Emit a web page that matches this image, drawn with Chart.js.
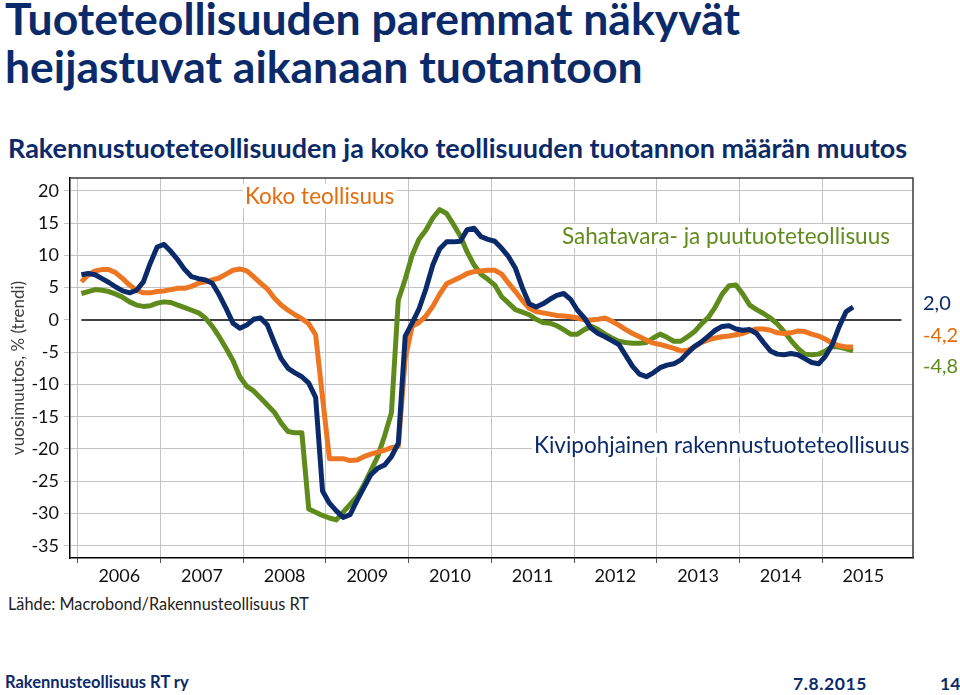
<!DOCTYPE html>
<html lang="fi">
<head>
  <meta charset="UTF-8">
  <title>Tuoteteollisuuden paremmat näkyvät heijastuvat aikanaan tuotantoon</title>
  <script src="https://cdn.jsdelivr.net/npm/chart.js"></script>
  <style>
    body { margin: 0; background: #fff; font-family: Lato, sans-serif; }
    #page { position: relative; width: 960px; height: 695px; overflow: hidden; }
    .txt { position: absolute; white-space: nowrap; line-height: 1.2; }
    .title { left: 5px; font-size: 44.5px; font-weight: bold; color: #0b2a6a; }
    #sub { left: 8px; top: 132px; font-size: 27px; font-weight: bold; color: #0b2a6a; }
    #chartBox { position: absolute; left: 0; top: 170px; width: 960px; height: 420px; }
    .note { background: #fff; font-size: 22.5px; line-height: 1.05; padding: 0 2px; }
    .endval { font-size: 20px; }
    #source { left: 8px; top: 594px; font-size: 16.3px; color: #222; }
    .foot { top: 673px; font-size: 16.5px; font-weight: bold; color: #0b2a6a; }
  </style>
</head>
<body>
<div id="page">
  <div class="txt title" style="top:-9px">Tuoteteollisuuden paremmat näkyvät</div>
  <div class="txt title" style="top:39px">heijastuvat aikanaan tuotantoon</div>
  <div class="txt" id="sub">Rakennustuoteteollisuuden ja koko teollisuuden tuotannon määrän muutos</div>

  <div id="chartBox"><canvas id="chart"></canvas></div>

  <div class="txt note" style="left:243px; top:184px; color:#e46c0a">Koko teollisuus</div>
  <div class="txt note" style="left:560px; top:224px; color:#5f8b1c">Sahatavara- ja puutuoteteollisuus</div>
  <div class="txt note" style="left:532px; top:433px; color:#0b2a6a">Kivipohjainen rakennustuoteteollisuus</div>

  <div class="txt endval" style="left:923px; top:290px; color:#0b2a6a">2,0</div>
  <div class="txt endval" style="left:923px; top:322px; color:#e46c0a">-4,2</div>
  <div class="txt endval" style="left:923px; top:353px; color:#5f8b1c">-4,8</div>

  <div class="txt" id="source">Lähde: Macrobond/Rakennusteollisuus RT</div>
  <div class="txt foot" style="left:5px">Rakennusteollisuus RT ry</div>
  <div class="txt foot" style="left:793px; font-size:17.5px; letter-spacing:0.6px">7.8.2015</div>
  <div class="txt foot" style="left:940px; font-size:17.5px">14</div>
</div>

<script>
// monthly values, Jan 2006 .. May 2015, % change y/y (trend)
const years = ['2006', '2007', '2008', '2009', '2010', '2011', '2012', '2013', '2014', '2015'];
const yTicks = [-35, -30, -25, -20, -15, -10, -5, 0, 5, 10, 15, 20];

// Kivipohjainen rakennustuoteteollisuus
const kivi = [
  7.0, 7.2, 7.0, 6.4, 5.8, 5.1, 4.5, 4.2, 4.6, 5.9,
  8.8, 11.3, 11.7, 10.6, 9.3, 7.8, 6.7, 6.4, 6.2, 5.7,
  3.9, 1.8, -0.5, -1.3, -0.8, 0.1, 0.3, -0.8, -3.5, -6.0,
  -7.5, -8.2, -8.8, -9.8, -12.0, -26.5, -28.4, -29.6, -30.6, -30.2,
  -28.0, -26.0, -24.0, -23.0, -22.5, -21.2, -19.1, -2.5, -0.5, 1.7,
  4.8, 8.5, 11.0, 12.1, 12.1, 12.2, 14.0, 14.2, 12.9, 12.5,
  12.2, 11.1, 9.8, 8.0, 5.0, 2.5, 2.0, 2.5, 3.2, 3.8,
  4.1, 3.2, 1.5, 0.3, -1.3, -2.1, -2.6, -3.2, -3.8, -5.5,
  -7.2, -8.4, -8.8, -8.2, -7.4, -7.0, -6.8, -6.2, -5.1, -4.1,
  -3.4, -2.5, -1.6, -1.0, -0.9, -1.4, -1.6, -1.5, -2.1, -3.5,
  -4.8, -5.3, -5.4, -5.2, -5.4, -6.0, -6.6, -6.8, -5.6, -3.8,
  -1.0, 1.3, 2.0
];

// Koko teollisuus
const koko = [
  5.9, 7.0, 7.6, 7.8, 7.8, 7.3, 6.4, 5.4, 4.6, 4.2,
  4.2, 4.4, 4.5, 4.7, 4.9, 4.9, 5.2, 5.7, 5.9, 6.2,
  6.5, 7.1, 7.7, 7.9, 7.6, 6.7, 5.7, 4.8, 3.4, 2.3,
  1.5, 0.8, 0.2, -0.6, -2.3, -12.0, -21.5, -21.5, -21.5, -21.8,
  -21.7, -21.2, -20.8, -20.5, -20.2, -19.8, -19.6, -6.0, -1.0, -0.4,
  0.6, 2.1, 4.0, 5.6, 6.1, 6.6, 7.2, 7.5, 7.6, 7.7,
  7.7, 7.1, 5.7, 4.4, 3.0, 1.8, 1.3, 1.1, 0.9, 0.7,
  0.6, 0.5, 0.3, 0.0, 0.0, 0.1, 0.3, -0.2, -0.8, -1.5,
  -2.1, -2.6, -3.1, -3.6, -3.8, -4.1, -4.4, -4.8, -4.7, -4.2,
  -3.5, -3.1, -2.8, -2.6, -2.5, -2.3, -2.1, -1.7, -1.4, -1.4,
  -1.6, -2.0, -2.1, -2.0, -1.7, -1.8, -2.2, -2.5, -3.0, -3.6,
  -4.0, -4.2, -4.2
];

// Sahatavara- ja puutuoteteollisuus
const saha = [
  4.1, 4.4, 4.7, 4.6, 4.4, 4.0, 3.5, 2.8, 2.3, 2.1,
  2.2, 2.6, 2.8, 2.7, 2.3, 1.9, 1.5, 1.1, 0.3, -1.0,
  -2.6, -4.4, -6.3, -8.8, -10.3, -11.0, -12.1, -13.2, -14.3, -16.0,
  -17.3, -17.5, -17.5, -29.3, -29.8, -30.3, -30.7, -31.0, -29.8, -28.6,
  -27.4, -25.6, -23.4, -21.2, -18.0, -14.4, 3.1, 6.3, 10.0, 12.5,
  13.9, 15.8, 17.1, 16.5, 14.8, 13.0, 10.5, 8.5, 7.1, 6.3,
  5.4, 3.6, 2.6, 1.6, 1.2, 0.8, 0.1, -0.4, -0.5, -0.9,
  -1.5, -2.2, -2.2, -1.5, -1.0, -1.5, -2.2, -2.8, -3.3, -3.5,
  -3.6, -3.6, -3.5, -2.8, -2.2, -2.7, -3.3, -3.3, -2.6, -1.8,
  -0.6, 0.4, 2.0, 4.0, 5.3, 5.4, 4.0, 2.3, 1.6, 1.0,
  0.3, -0.6, -1.8, -3.2, -4.4, -5.3, -5.4, -5.3, -4.8, -4.1,
  -4.2, -4.5, -4.8
];

const NAVY = '#0b2a6a', ORANGE = '#ed7623', GREEN = '#5f8b1c', GRID = '#c4c4c4';

// x in months from start of 2006, point sits in the middle of its month
const pts = arr => arr.map((v, i) => ({ x: i + 0.5, y: v }));

const frame = {
  id: 'frame',
  beforeDatasetsDraw(chart) {
    const { ctx, scales: { x, y } } = chart;
    ctx.save();
    ctx.strokeStyle = '#000';
    ctx.lineWidth = 1.5;
    ctx.beginPath();
    ctx.moveTo(x.getPixelForValue(0.5), y.getPixelForValue(0));
    ctx.lineTo(x.getPixelForValue(119.5), y.getPixelForValue(0));
    ctx.stroke();
    ctx.restore();
  },
  afterDraw(chart) {
    const { ctx, chartArea: a } = chart;
    ctx.save();
    ctx.strokeStyle = '#3a3a3a';
    ctx.lineWidth = 1.5;
    ctx.beginPath();
    ctx.moveTo(a.left, a.top);
    ctx.lineTo(a.right, a.top);
    ctx.lineTo(a.right, a.bottom);
    ctx.stroke();
    ctx.restore();
  }
};

const line = (label, data, color) => ({
  label, data: pts(data), borderColor: color, borderWidth: 5,
  pointRadius: 0, tension: 0, borderJoinStyle: 'round', fill: false
});

new Chart(document.getElementById('chart'), {
  type: 'line',
  data: {
    datasets: [
      line('Kivipohjainen rakennustuoteteollisuus', kivi, NAVY),
      line('Koko teollisuus', koko, ORANGE),
      line('Sahatavara- ja puutuoteteollisuus', saha, GREEN)
    ]
  },
  options: {
    responsive: true,
    maintainAspectRatio: false,
    animation: false,
    events: [],
    layout: { padding: { top: 8, right: 47, left: 0, bottom: 0 } },
    plugins: { legend: { display: false }, tooltip: { enabled: false } },
    scales: {
      x: {
        type: 'linear',
        min: -1.15,
        max: 121.2,
        afterBuildTicks: s => {
          const t = [];
          for (let v = 0; v < 120; v += 6) t.push({ value: v });
          s.ticks = t;
        },
        afterFit: s => { s.height = 32; s.paddingLeft = 0; s.paddingRight = 0; },
        grid: {
          color: c => (c.tick && c.tick.value % 12 === 0) ? GRID : 'rgba(0,0,0,0)',
          tickColor: c => (c.tick && c.tick.value % 12 === 0) ? '#555' : 'rgba(0,0,0,0)',
          tickLength: 5,
          lineWidth: 1
        },
        border: { color: '#000', width: 1.5 },
        ticks: {
          autoSkip: false,
          maxRotation: 0,
          padding: 2,
          color: '#111',
          font: { family: 'Lato', size: 18 },
          callback: v => (v % 12 === 6) ? years[(v - 6) / 12] : ''
        }
      },
      y: {
        min: -36.9,
        max: 22,
        afterBuildTicks: s => { s.ticks = yTicks.map(v => ({ value: v })); },
        afterFit: s => { s.width = 70; s.paddingTop = 0; s.paddingBottom = 0; },
        grid: {
          color: c => (c.tick && c.tick.value === 0) ? 'rgba(0,0,0,0)' : GRID,
          tickColor: GRID,
          tickLength: 6,
          lineWidth: 1
        },
        border: { color: '#000', width: 1.5 },
        ticks: {
          padding: 5,
          color: '#111',
          font: { family: 'Lato', size: 18 },
          callback: v => String(v)
        },
        title: {
          display: true,
          text: 'vuosimuutos, % (trendi)',
          color: '#404040',
          font: { family: 'Lato', size: 17 },
          padding: { top: 8, bottom: 0 }
        }
      }
    }
  },
  plugins: [frame]
});
</script>
</body>
</html>
